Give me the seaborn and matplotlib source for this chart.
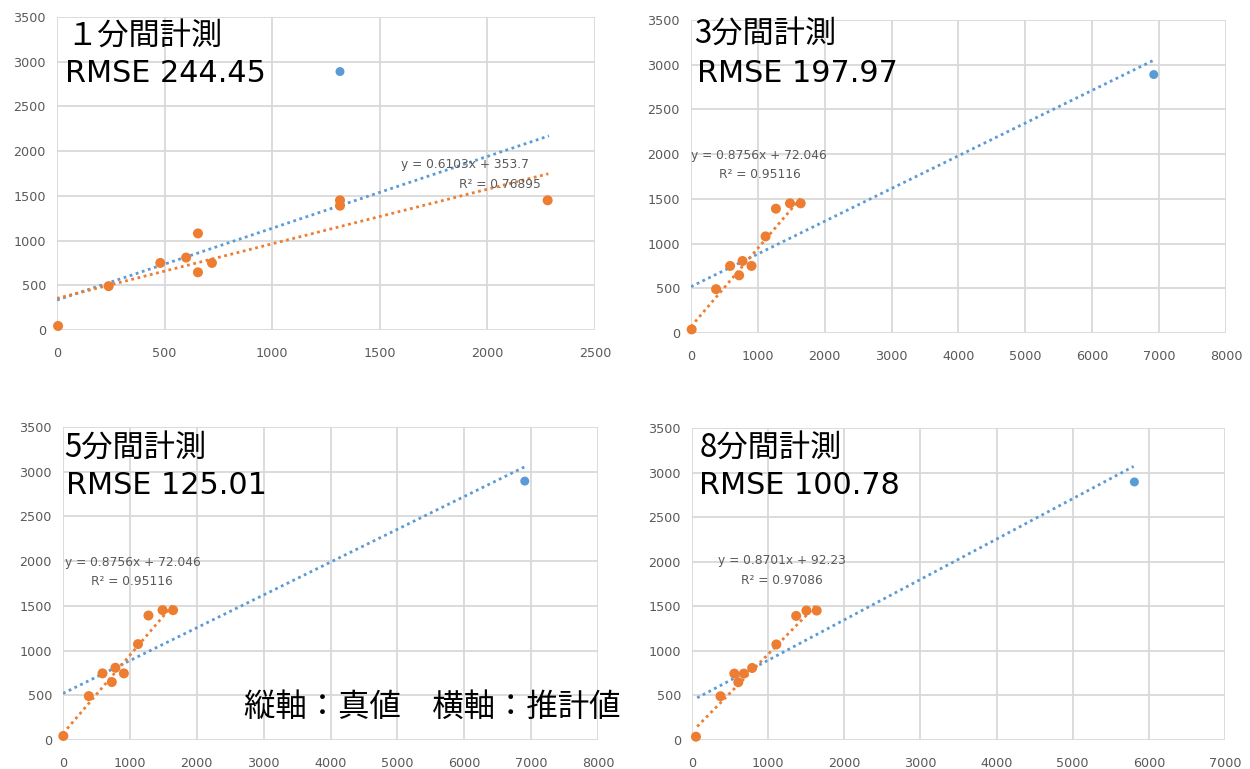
import numpy as np
import pandas as pd
import seaborn as sns
import matplotlib
matplotlib.use("Agg")
import matplotlib.pyplot as plt

# ---------------- data ----------------
titles = ["１分間計測", "3分間計測", "5分間計測", "8分間計測"]
rmse_labels = ["RMSE 244.45", "RMSE 197.97", "RMSE 125.01", "RMSE 100.78"]

# orange points (estimate, truth)
p1_x = [5, 240, 480, 600, 655, 655, 720, 1315, 1315, 2280]
p1_y = [45, 490, 750, 810, 1080, 645, 750, 1450, 1390, 1450]
p2_x = [10, 375, 585, 720, 770, 905, 1115, 1270, 1480, 1640]
p2_y = [40, 490, 750, 645, 805, 750, 1080, 1390, 1450, 1450]
p3_x = [5, 386, 591, 730, 784, 910, 1121, 1278, 1489, 1646]
p3_y = [45, 491, 745, 648, 808, 745, 1072, 1392, 1452, 1452]
p4_x = [52, 374, 556, 608, 681, 790, 1108, 1368, 1503, 1638]
p4_y = [37, 491, 745, 648, 745, 808, 1072, 1392, 1452, 1452]

# blue outlier point per panel
blue_x = [1315, 6920, 6905, 5810]
blue_y = [2890, 2890, 2895, 2895]

# trend lines: slope, intercept, x-start, x-end
orange_slope = [0.6103, 0.8756, 0.8756, 0.8701]
orange_icpt = [353.7, 72.046, 72.046, 92.23]
orange_x0 = [0, 0, 0, 68]
orange_x1 = [2283, 1635, 1635, 1640]
blue_slope = [0.803, 0.366, 0.367, 0.453]
blue_icpt = [335, 518, 521, 442]
blue_x0 = [0, 0, 0, 68]
blue_x1 = [2286, 6940, 6945, 5800]

eq_labels = ["y = 0.6103x + 353.7", "y = 0.8756x + 72.046",
             "y = 0.8756x + 72.046", "y = 0.8701x + 92.23"]
r2_labels = ["R² = 0.76895", "R² = 0.95116", "R² = 0.95116", "R² = 0.97086"]

x_max = [2500, 8000, 8000, 7000]
x_step = [500, 1000, 1000, 1000]
y_max = 3500
y_step = 500

axis_note = "縦軸：真値　横軸：推計値"

# ---------------- style ----------------
sns.set_theme(style="white")
plt.rcParams['font.family'] = ['Noto Sans CJK JP', 'DejaVu Sans']

ORANGE = "#ED7D31"
BLUE = "#5B9BD5"
GRID = "#d9d9d9"
TXT = "#595959"

W, H = 1250, 769
fig = plt.figure(figsize=(W / 100, H / 100), dpi=100)
fig.patch.set_facecolor("white")

# axes rectangles in pixels: left, right, top, bottom
rects = [(57, 595, 17, 330), (691, 1226, 20, 333),
         (63, 598, 427, 740), (692, 1225, 428, 740)]

points_x = [p1_x, p2_x, p3_x, p4_x]
points_y = [p1_y, p2_y, p3_y, p4_y]

# equation label positions (data coords)
eq_pos = [(1600, 1850, 1870, 1627), (0, 1990, 420, 1776),
          (30, 1984, 422, 1776), (338, 2018, 640, 1794)]
title_dx = [9, 3, 1, 8]
rmse_dx = [8, 6, 3, 7]
title_y1 = [36, 34, 448, 448]
title_y2 = [73, 73, 485, 485]

for i, (l, r, t, b) in enumerate(rects):
    ax = fig.add_axes([l / W, (H - b) / H, (r - l) / W, (b - t) / H])
    ax.set_facecolor("white")

    # trend lines
    bx = np.array([blue_x0[i], blue_x1[i]], dtype=float)
    bl = pd.DataFrame({"x": bx, "y": blue_slope[i] * bx + blue_icpt[i]})
    sns.lineplot(data=bl, x="x", y="y", ax=ax, color=BLUE, lw=2.0,
                 linestyle=(0, (1, 1.3)), zorder=3)
    ox = np.array([orange_x0[i], orange_x1[i]], dtype=float)
    ol = pd.DataFrame({"x": ox, "y": orange_slope[i] * ox + orange_icpt[i]})
    sns.lineplot(data=ol, x="x", y="y", ax=ax, color=ORANGE, lw=2.0,
                 linestyle=(0, (1, 1.3)), zorder=3)

    # points
    df = pd.DataFrame({"x": points_x[i], "y": points_y[i]})
    sns.scatterplot(data=df, x="x", y="y", ax=ax, color=ORANGE, s=52,
                    edgecolor="none", zorder=4, clip_on=False)
    bdf = pd.DataFrame({"x": [blue_x[i]], "y": [blue_y[i]]})
    sns.scatterplot(data=bdf, x="x", y="y", ax=ax, color=BLUE, s=42,
                    edgecolor="none", zorder=4, clip_on=False)

    ax.set_xlim(0, x_max[i])
    ax.set_ylim(0, y_max)
    ax.set_xticks(np.arange(0, x_max[i] + 1, x_step[i]))
    ax.set_yticks(np.arange(0, y_max + 1, y_step))
    ax.grid(True, color=GRID, lw=1.3, zorder=0)
    ax.set_axisbelow(True)
    for s in ax.spines.values():
        s.set_visible(False)
    ax.tick_params(axis="both", length=0, labelsize=9.2, labelcolor=TXT)
    ax.tick_params(axis="x", pad=12)
    ax.tick_params(axis="y", pad=8)
    for lab in ax.get_xticklabels() + ax.get_yticklabels():
        lab.set_family("DejaVu Sans")
    ax.set_xlabel("")
    ax.set_ylabel("")

    # equation texts
    ex, ey, rx, ry = eq_pos[i]
    ax.text(ex, ey, eq_labels[i], fontsize=8.8, color=TXT, ha="left",
            va="center", family="DejaVu Sans", zorder=5)
    ax.text(rx, ry, r2_labels[i], fontsize=8.8, color=TXT, ha="left",
            va="center", family="DejaVu Sans", zorder=5)

    # titles
    fig.text((l + title_dx[i]) / W, (H - title_y1[i]) / H, titles[i],
             fontsize=22.5, color="black", ha="left", va="center")
    fig.text((l + rmse_dx[i]) / W, (H - title_y2[i]) / H, rmse_labels[i],
             fontsize=21.8, color="black", ha="left", va="center",
             family=["DejaVu Sans"])

fig.text(244 / W, (H - 707) / H, axis_note, fontsize=22.6, color="black",
         ha="left", va="center")

fig.savefig("out.png", dpi=100, facecolor="white")
